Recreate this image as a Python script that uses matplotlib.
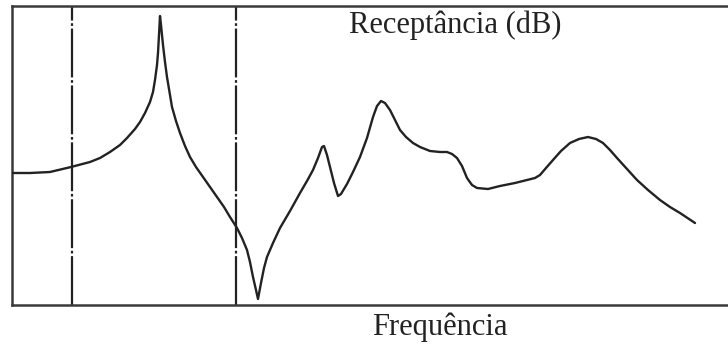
import matplotlib
matplotlib.use('Agg')
import matplotlib.pyplot as plt
import numpy as np

# Receptance curve (frequency in arbitrary units, level in arbitrary dB units)
frequency = [12, 30, 50, 71, 90, 100, 110, 120, 127, 135, 140, 145, 150, 153,
             155, 157, 158, 159, 160,
             161, 162, 163, 165, 167, 170, 172, 176, 180, 185, 190, 196, 203,
             210, 217, 224, 230, 237, 242, 247, 250, 253, 256, 258,
             261, 264, 267, 273, 280, 290, 300, 307, 313, 318, 322, 324, 327,
             330, 334, 338, 341, 347, 353, 360, 367, 373, 377, 381, 385, 390,
             395, 400, 406, 413, 420, 430, 440, 447, 452, 457, 462, 467, 472,
             477, 488, 500, 515, 527, 535, 540, 546, 553, 561, 570, 579, 588,
             596, 603, 610, 617, 627, 637, 648, 660, 670, 680, 695]
level = [132, 132, 133, 138, 143, 147, 153, 160, 167, 176, 183, 192, 203, 213,
         225, 240, 252, 270, 289,
         280, 270, 260, 243, 228, 210, 198, 184, 172, 159, 148, 138, 128,
         118, 108, 98, 88, 77, 67, 55, 43, 28, 15, 6,
         22, 37, 48, 62, 77, 94, 112, 124, 135, 147, 158, 159, 150,
         138, 122, 109, 111, 121, 133, 148, 167, 188, 199, 204, 202, 195,
         185, 175, 168, 162, 158, 154, 153, 153, 151, 147, 139, 127, 120,
         117, 116, 119, 122, 125, 127, 130, 137, 145, 154, 162, 166, 168,
         166, 162, 155, 147, 136, 125, 115, 105, 98, 92, 82]
markers = [72, 236]

W, H = 728, 347
fig = plt.figure(figsize=(W / 100, H / 100), dpi=100)
ax = fig.add_axes([12 / W, 42 / H, (W - 12) / W, 299 / H])

ax.plot(frequency, level, color='#222222', linewidth=1.7,
        solid_joinstyle='round', solid_capstyle='round', zorder=3)
for xm in markers:
    ax.axvline(xm, color='#222222', linewidth=1.6, dashes=(22, 1.2, 1.2, 1.2), zorder=2)

ax.set_xlim(12, 728)
ax.set_ylim(0, 299)
ax.set_xticks([])
ax.set_yticks([])
ax.spines['right'].set_visible(False)
for side in ['left', 'top', 'bottom']:
    ax.spines[side].set_color('#3a3a3a')
    ax.spines[side].set_linewidth(1.8)

font = dict(family='Liberation Serif', fontsize=22, color='#222222', ha='center', va='center')
fig.text(455 / W, 1 - 25 / H, 'Receptância (dB)', **font)
fig.text(440 / W, 1 - 327 / H, 'Frequência', **font)

fig.savefig('out.png', dpi=100)
